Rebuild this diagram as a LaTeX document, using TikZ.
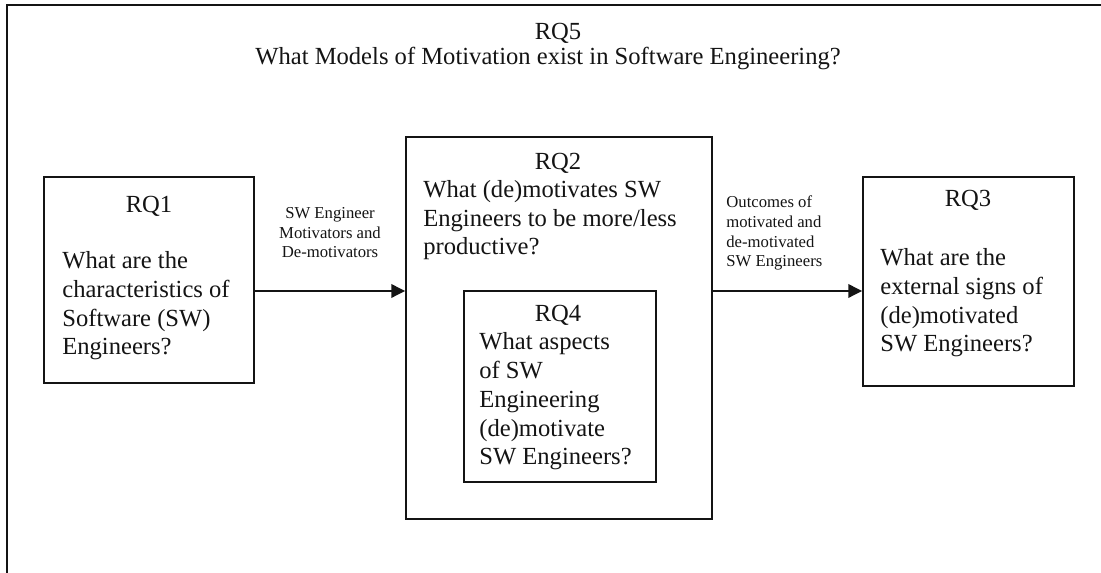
\documentclass[tikz,border=0pt]{standalone}
\usepackage{fontspec}
\setmainfont{Liberation Serif}
\usepackage{xcolor}
\usepackage{tikz}
\usetikzlibrary{arrows.meta}
\definecolor{bg}{HTML}{FFFFFF}
\definecolor{ink}{HTML}{141414}
\tikzset{
  frame/.style={draw=ink, line width=1.1pt},
  box/.style={draw=ink, line width=0.8pt, inner sep=0pt},
  arr/.style={draw=ink, line width=1.6pt, -{Triangle[length=8pt,width=7.5pt]}},
  head/.style={text=ink, font=\fontsize{14}{16.5}\selectfont, inner sep=0pt, anchor=base},
  ques/.style={text=ink, font=\fontsize{14}{16.5}\selectfont, inner sep=0pt, anchor=base west, align=left},
  lab/.style={text=ink, font=\fontsize{9.5}{11.2}\selectfont, inner sep=0pt, anchor=base}
}
\begin{document}
\begin{tikzpicture}[x=0.02cm,y=-0.02cm]
  \fill[bg] (0,0) rectangle (1101,573);
  \useasboundingbox (0,0) rectangle (1101,573);
  \draw[frame] (1101,5) -- (7,5) -- (7,573);

  \node[head] (rq5) at (558,40) {RQ5};
  \node[ques] (q5) at (255,65) {What Models of Motivation exist in Software Engineering?};

  \node[box,minimum width=4.2cm,minimum height=4.12cm] (rq1) at (149,280) {};
  \node[box,minimum width=6.12cm,minimum height=7.64cm] (rq2) at (559,328) {};
  \node[box,minimum width=3.84cm,minimum height=3.82cm] (rq4) at (560,386.5) {};
  \node[box,minimum width=4.22cm,minimum height=4.18cm] (rq3) at (968.5,281.5) {};

  % multi-line nodes: base is the last line
  \node[head] (h1) at (149,213) {RQ1};
  \node[ques] (q1) at (62,355) {What are the\\characteristics of\\Software (SW)\\Engineers?};
  \node[head] (h2) at (558,170) {RQ2};
  \node[ques] (q2) at (423,255) {What (de)motivates SW\\Engineers to be more/less\\productive?};
  \node[head] (h4) at (558,322) {RQ4};
  \node[ques] (q4) at (479,465) {What aspects\\of SW\\Engineering\\(de)motivate\\SW Engineers?};
  \node[head] (h3) at (968,207) {RQ3};
  \node[ques] (q3) at (880,352) {What are the\\external signs of\\(de)motivated\\SW Engineers?};

  \coordinate (ar) at (0,291);
  \draw[arr] (rq1.east |- ar) -- (rq2.west |- ar);
  \draw[arr] (rq2.east |- ar) -- (rq3.west |- ar);

  \node[lab,align=center] (l1) at (330,258) {SW Engineer\\Motivators and\\De-motivators};
  \node[lab,anchor=base west,align=left] (l2) at (726,267) {Outcomes of\\motivated and\\de-motivated\\SW Engineers};
\end{tikzpicture}
\end{document}
